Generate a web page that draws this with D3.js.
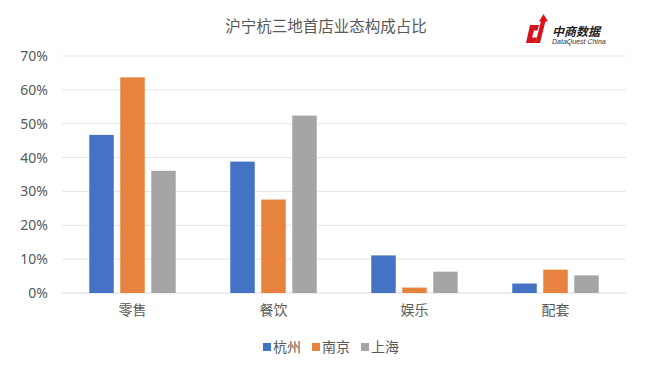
<!DOCTYPE html>
<html>
<head>
<meta charset="utf-8">
<script src="https://cdn.jsdelivr.net/npm/d3@7"></script>
<style>
  body { margin: 0; background: #fff; }
  text { font-family: "Noto Sans CJK SC", "Noto Sans", sans-serif; }
</style>
</head>
<body>
<div id="chart-area"></div>
<script>
// DATA
let categories = ["零售", "餐饮", "娱乐", "配套"];
let seriesNames = ["杭州", "南京", "上海"];
let hangzhou = [46.7, 38.8, 11.1, 2.8];
let nanjing = [63.7, 27.6, 1.6, 6.9];
let shanghai = [36.1, 52.4, 6.3, 5.2];
let yTicks = [0, 10, 20, 30, 40, 50, 60, 70];

let seriesValues = [hangzhou, nanjing, shanghai];
let colors = ["#4472c4", "#e8833f", "#a5a5a5"];

// CHART AREA
let width = 650, height = 370;
let margin = { top: 56, right: 24, bottom: 77, left: 62 };

let svg = d3.select("#chart-area")
  .append("svg")
  .attr("width", width)
  .attr("height", height);

let x0 = d3.scaleBand()
  .domain(categories)
  .range([margin.left, width - margin.right])
  .padding(0);

let x1 = d3.scaleBand()
  .domain(seriesNames)
  .range([0, x0.bandwidth()])
  .paddingInner(0.21)
  .paddingOuter(0.88);

let y = d3.scaleLinear()
  .domain([0, 70])
  .range([height - margin.bottom, margin.top]);

// gridlines
svg.append("g")
  .selectAll("line")
  .data(yTicks)
  .enter()
  .append("line")
  .attr("x1", margin.left)
  .attr("x2", width - margin.right)
  .attr("y1", d => y(d))
  .attr("y2", d => y(d))
  .attr("stroke", d => d === 0 ? "#d9d9d9" : "#e6e6e6")
  .attr("stroke-width", 1);

// y axis labels
let yAxis = d3.axisLeft(y)
  .tickValues(yTicks)
  .tickFormat(d => d + "%")
  .tickSize(0)
  .tickPadding(14);

let yAxisGroup = svg.append("g")
  .attr("transform", "translate(" + margin.left + ",0)")
  .call(yAxis);
yAxisGroup.select(".domain").remove();
yAxisGroup.selectAll("text")
  .attr("fill", "#595959")
  .style("font-size", "14px")
  .style("font-family", "'Noto Sans', sans-serif");

// bars
let groups = svg.append("g")
  .selectAll("g")
  .data(categories)
  .enter()
  .append("g")
  .attr("transform", d => "translate(" + x0(d) + ",0)");

groups.selectAll("rect")
  .data((c, i) => seriesNames.map((s, j) => ({ s: s, v: seriesValues[j][i], j: j })))
  .enter()
  .append("rect")
  .attr("x", d => x1(d.s))
  .attr("y", d => y(d.v))
  .attr("width", x1.bandwidth())
  .attr("height", d => y(0) - y(d.v))
  .attr("fill", d => colors[d.j]);

// x axis labels
let xAxis = d3.axisBottom(x0).tickSize(0).tickPadding(12);
let xAxisGroup = svg.append("g")
  .attr("transform", "translate(0," + y(0) + ")")
  .call(xAxis);
xAxisGroup.select(".domain").remove();
xAxisGroup.selectAll("text")
  .attr("fill", "#595959")
  .style("font-size", "14px")
  .style("font-family", "'Noto Sans CJK SC', sans-serif");

// title
svg.append("text")
  .attr("x", 326)
  .attr("y", 27)
  .attr("dy", "0.35em")
  .attr("text-anchor", "middle")
  .attr("fill", "#595959")
  .style("font-size", "15.5px")
  .text("沪宁杭三地首店业态构成占比");

// legend
let legendX = [263, 312, 361];
let legend = svg.append("g")
  .selectAll("g")
  .data(seriesNames)
  .enter()
  .append("g")
  .attr("transform", (d, i) => "translate(" + legendX[i] + ",347)");
legend.append("rect")
  .attr("x", 0)
  .attr("y", -4)
  .attr("width", 8)
  .attr("height", 8)
  .attr("fill", (d, i) => colors[i]);
legend.append("text")
  .attr("x", 10)
  .attr("dy", "0.35em")
  .attr("fill", "#595959")
  .style("font-size", "14px")
  .text(d => d);

// logo
let logo = svg.append("g").attr("transform", "translate(526,14)");
logo.append("path")
  .attr("d", "M4,11 L13,11 L11.5,16.5 L8,16.5 L6,23.5 L11,23.5 L9.5,29 L0,29 Z")
  .attr("fill", "#d7141e");
logo.append("path")
  .attr("d", "M15,7 L19.5,7 L14,29 L9.5,29 Z M17.5,0 L22,7.5 L13,7.5 Z")
  .attr("fill", "#d7141e");
logo.append("text")
  .attr("x", 26)
  .attr("y", 22)
  .attr("fill", "#222")
  .style("font-size", "12px")
  .style("font-weight", "bold")
  .style("font-style", "italic")
  .text("中商数据");
logo.append("text")
  .attr("x", 26)
  .attr("y", 30)
  .attr("fill", "#333")
  .style("font-size", "7px")
  .style("font-style", "italic")
  .style("font-family", "'Liberation Sans', sans-serif")
  .text("DataQuest China");
</script>
</body>
</html>
